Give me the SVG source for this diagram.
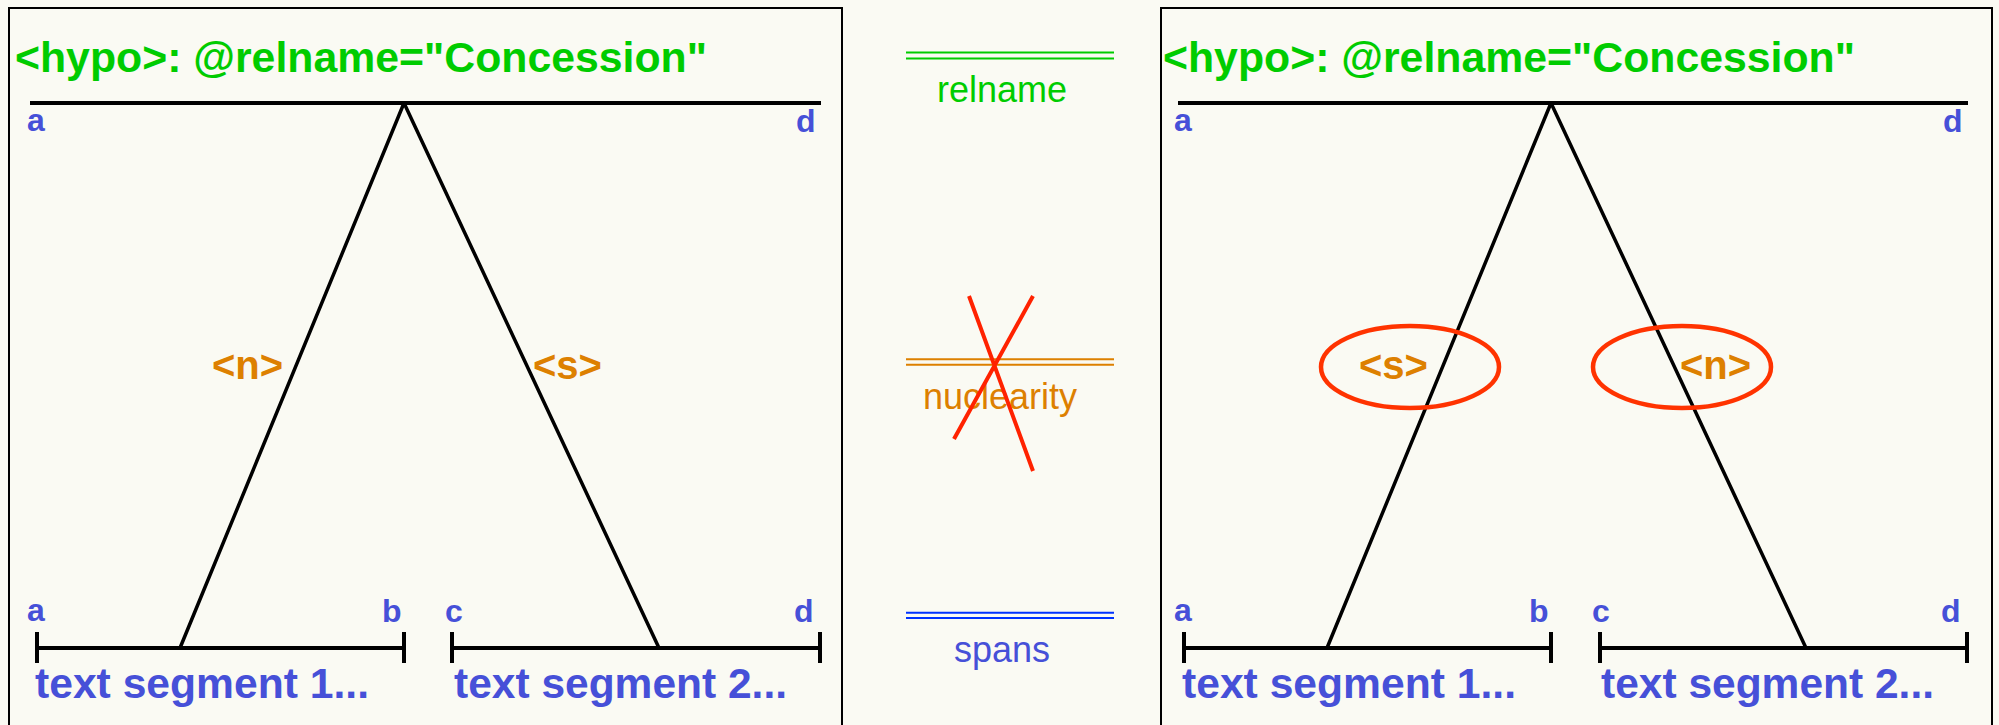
<svg xmlns="http://www.w3.org/2000/svg" width="1999" height="725" viewBox="0 0 1999 725">
  <style>
    .panel { fill: #fafaf3; stroke: #000; stroke-width: 2; }
    .tree { stroke: #000; stroke-width: 3.5; fill: none; stroke-linecap: butt; }
    .bar { stroke: #000; stroke-width: 4; fill: none; }
    .title { font-family: "Liberation Sans", Arial, sans-serif; font-weight: bold; font-size: 42px; fill: #00cc00; }
    .pos { font-family: "Liberation Sans", Arial, sans-serif; font-weight: bold; font-size: 32px; fill: #4650d8; }
    .seg { font-family: "Liberation Sans", Arial, sans-serif; font-weight: bold; font-size: 42px; fill: #4650d8; }
    .nuc { font-family: "Liberation Sans", Arial, sans-serif; font-weight: bold; font-size: 40px; fill: #dd8000; }
    .leg { font-family: "Liberation Sans", Arial, sans-serif; font-size: 36px; }
    .ring { fill: none; stroke: #ff3300; stroke-width: 4.5; }
  </style>

  <rect x="0" y="0" width="1999" height="725" fill="#fafaf3"/>

  <!-- left tree: N before S -->
  <g id="tree-left">
    <rect class="panel" x="9" y="8" width="833" height="730"/>
    <text class="title" x="15" y="72" textLength="692" lengthAdjust="spacingAndGlyphs">&lt;hypo&gt;: @relname="Concession"</text>
    <line class="bar" x1="30" y1="103" x2="821" y2="103"/>
    <text class="pos" x="27" y="131">a</text>
    <text class="pos" x="796" y="132">d</text>
    <text class="nuc" x="212" y="379">&lt;n&gt;</text>
    <text class="nuc" x="533" y="379">&lt;s&gt;</text>
  </g>
  <g id="seg-left-1">
    <path class="bar" d="M37 648 H404 M37 632 V663 M404 632 V663"/>
    <text class="pos" x="27" y="621">a</text>
    <text class="pos" x="382" y="622">b</text>
    <text class="seg" x="35" y="698" textLength="334" lengthAdjust="spacingAndGlyphs">text segment 1...</text>
  </g>
  <g id="seg-left-2">
    <path class="bar" d="M452 648 H820 M452 632 V663 M820 632 V663"/>
    <text class="pos" x="445" y="622">c</text>
    <text class="pos" x="794" y="622">d</text>
    <text class="seg" x="454" y="698" textLength="333" lengthAdjust="spacingAndGlyphs">text segment 2...</text>
  </g>

  <!-- right tree: S before N -->
  <g id="tree-right">
    <rect class="panel" x="1161" y="8" width="831" height="730"/>
    <text class="title" x="1163" y="72" textLength="692" lengthAdjust="spacingAndGlyphs">&lt;hypo&gt;: @relname="Concession"</text>
    <line class="bar" x1="1178" y1="103" x2="1968" y2="103"/>
    <text class="pos" x="1174" y="131">a</text>
    <text class="pos" x="1943" y="132">d</text>
    <text class="nuc" x="1359" y="379">&lt;s&gt;</text>
    <text class="nuc" x="1680" y="379">&lt;n&gt;</text>
  </g>
  <g id="seg-right-1">
    <path class="bar" d="M1184 648 H1551 M1184 632 V663 M1551 632 V663"/>
    <text class="pos" x="1174" y="621">a</text>
    <text class="pos" x="1529" y="622">b</text>
    <text class="seg" x="1182" y="698" textLength="334" lengthAdjust="spacingAndGlyphs">text segment 1...</text>
  </g>
  <g id="seg-right-2">
    <path class="bar" d="M1600 648 H1967 M1600 632 V663 M1967 632 V663"/>
    <text class="pos" x="1592" y="622">c</text>
    <text class="pos" x="1941" y="622">d</text>
    <text class="seg" x="1601" y="698" textLength="333" lengthAdjust="spacingAndGlyphs">text segment 2...</text>
  </g>

  <!-- tree branches -->
  <g id="connectors">
    <path class="tree" d="M404 103 L180 648 M404 103 L659 648"/>
    <path class="tree" d="M1551 103 L1327 648 M1551 103 L1806 648"/>
  </g>

  <!-- highlighted nuclearity labels -->
  <g id="rings">
    <ellipse class="ring" cx="1410" cy="367" rx="89" ry="41"/>
    <ellipse class="ring" cx="1682" cy="367" rx="89" ry="41"/>
  </g>

  <!-- legend -->
  <g id="legend-relname">
    <path d="M906 52.5 H1114 M906 58.5 H1114" stroke="#00cc00" stroke-width="2"/>
    <text class="leg" x="1002" y="101.5" text-anchor="middle" fill="#00cc00">relname</text>
  </g>
  <g id="legend-nuclearity">
    <path d="M906 359.3 H1114 M906 364.7 H1114" stroke="#dd8000" stroke-width="2"/>
    <text class="leg" x="1000" y="409" text-anchor="middle" fill="#dd8000">nuclearity</text>
    <path d="M969 296 L1033 471 M1033 296 L954 439" stroke="#ff2200" stroke-width="4" fill="none"/>
  </g>
  <g id="legend-spans">
    <path d="M906 612.7 H1114 M906 618 H1114" stroke="#0033ff" stroke-width="2"/>
    <text class="leg" x="1002" y="661.7" text-anchor="middle" fill="#4650d8">spans</text>
  </g>
</svg>
